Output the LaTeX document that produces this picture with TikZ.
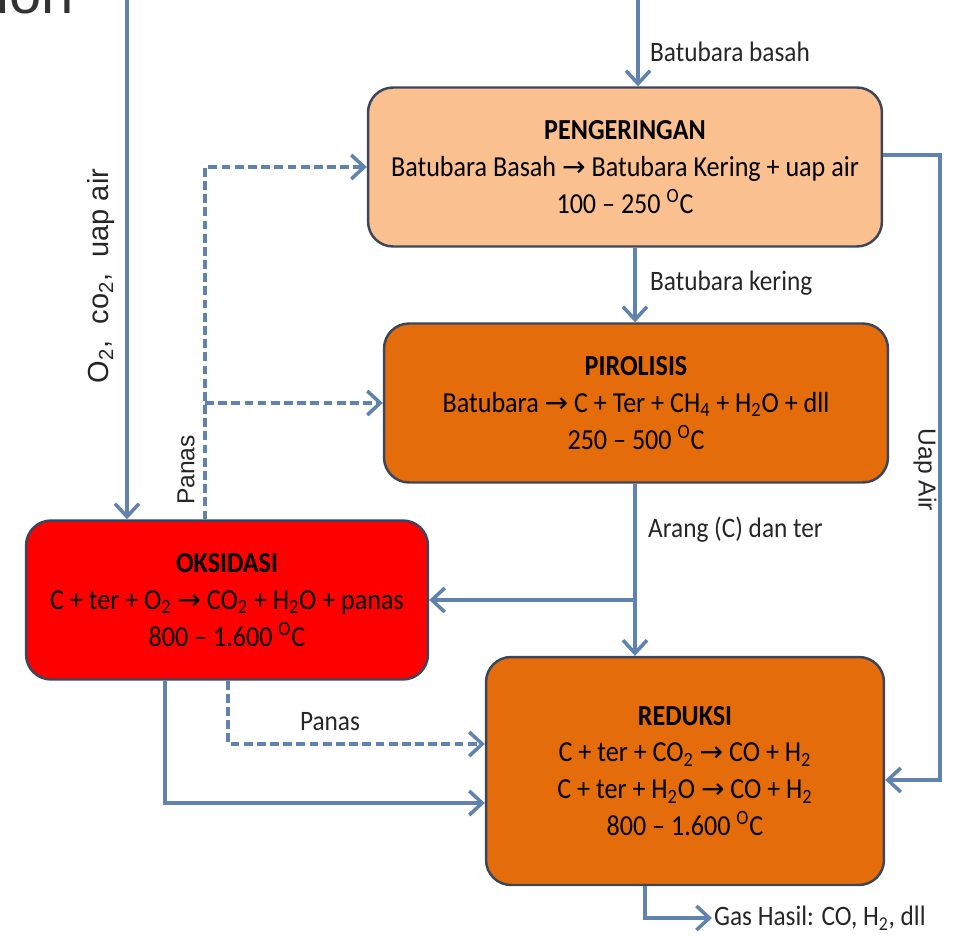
\documentclass[tikz,border=0pt]{standalone}
\usepackage{fontspec}
\setmainfont{Carlito}[FakeStretch=0.9]
\newfontfamily\arialfont{Liberation Sans}
\newfontfamily\symfont{DejaVu Sans}
\usetikzlibrary{arrows.meta,positioning,calc}

\definecolor{linkblue}{RGB}{95,130,175}
\definecolor{boxedge}{RGB}{60,70,90}
\definecolor{lightorange}{RGB}{250,192,144}
\definecolor{darkorange}{RGB}{228,108,10}
\definecolor{oxred}{RGB}{255,0,0}

\newcommand{\rarr}{{\symfont\fontsize{16}{16}\selectfont →}}
\newcommand{\degc}{\textsuperscript{O}C}

\begin{document}
\begin{tikzpicture}[
    x=0.02cm, y=-0.02cm,
    box/.style={
        rectangle,
        draw=boxedge,
        line width=1.4pt,
        rounded corners=0.5cm,
        align=center,
        inner xsep=2pt,
        font=\fontsize{16.5}{21}\selectfont
    },
    arrow/.style={
        draw=linkblue,
        line width=2pt,
        -{Straight Barb[length=2.6mm,width=4.8mm]}
    },
    dasharrow/.style={
        arrow,
        dash pattern=on 5pt off 2.5pt
    },
    lbl/.style={
        font=\fontsize{16}{18}\selectfont,
        text=black!85
    },
    sidelbl/.style={
        font=\arialfont\fontsize{14}{16}\selectfont,
        text=black!85
    }
]
\useasboundingbox (0,0) rectangle (958,940);

% boxes
\node[box, fill=lightorange, minimum width=10.28cm, minimum height=3.18cm] (peng) at (625,167)
    {\textbf{PENGERINGAN}\\Batubara Basah \rarr{} Batubara Kering + uap air\\100 -- 250 \degc};
\node[box, fill=darkorange, minimum width=10.08cm, minimum height=3.18cm] (pir) at (636,403)
    {\textbf{PIROLISIS}\\Batubara \rarr{} C + Ter + CH\textsubscript{4} + H\textsubscript{2}O + dll\\250 -- 500 \degc};
\node[box, fill=oxred, minimum width=8.04cm, minimum height=3.18cm] (oks) at (227,600)
    {\textbf{OKSIDASI}\\C + ter + O\textsubscript{2} \rarr{} CO\textsubscript{2} + H\textsubscript{2}O + panas\\800 -- 1.600 \degc};
\node[box, fill=darkorange, minimum width=7.96cm, minimum height=4.56cm] (red) at (685,771)
    {\textbf{REDUKSI}\\C + ter + CO\textsubscript{2} \rarr{} CO + H\textsubscript{2}\\C + ter + H\textsubscript{2}O \rarr{} CO + H\textsubscript{2}\\800 -- 1.600 \degc};

% helper points
\coordinate (feed) at (638,0);
\coordinate (gasin) at (127,0);
\coordinate (mid) at (635,0);
\coordinate (heat) at (205,0);
\coordinate (heatlow) at (228,744);
\coordinate (char) at (165,803);
\coordinate (steamtop) at (940,155);
\coordinate (steamlow) at (940,780);
\coordinate (gasout) at (645,918);

% labels
\node[lbl, anchor=west] (feedlbl) at (644,52) {Batubara basah};
\node[lbl, anchor=west] (drylbl) at (644,283) {Batubara kering};
\node[lbl, anchor=west] (charlbl) at (642,530) {Arang (C) dan ter};
\node[lbl] (heatlbl) at (330,722) {Panas};
\node[lbl, anchor=west, inner sep=1pt] (gas) at (712,918) {Gas Hasil: CO, H\textsubscript{2}, dll};
\node[sidelbl, rotate=90] (heatside) at (186,470) {Panas};
\node[sidelbl, rotate=90, font=\arialfont\fontsize{16.5}{18}\selectfont] (gaslbl) at (101,276) {O\textsubscript{2},\ \ co\textsubscript{2},\ \ uap air};
\node[sidelbl, rotate=-90] (steamlbl) at (925,470) {Uap Air};
\node[font=\arialfont\fontsize{33}{33}\selectfont, text=black!80, anchor=base west, inner sep=0pt] (cut) at (-4,13) {ion};

% connectors
\draw[arrow] (feed) -- (feed |- peng.north);
\draw[arrow] (gasin) -- (gasin |- oks.north);
\draw[arrow] (mid |- peng.south) -- (mid |- pir.north);
\draw[arrow] (mid |- pir.south) -- (mid |- red.north);
\draw[arrow] (mid |- oks.east) -- (oks.east);
\draw[dasharrow] (heat |- oks.north) -- (heat |- peng.west) -- (peng.west);
\draw[dasharrow] (heat |- pir.west) -- (pir.west);
\draw[dasharrow] (heatlow |- oks.south) -- (heatlow) -- (heatlow -| red.west);
\draw[arrow] (char |- oks.south) -- (char) -- (char -| red.west);
\draw[arrow] (steamtop -| peng.east) -- (steamtop) -- (steamlow) -- (steamlow -| red.east);
\draw[arrow] (gasout |- red.south) -- (gasout) -- (gas.west);

\end{tikzpicture}
\end{document}
